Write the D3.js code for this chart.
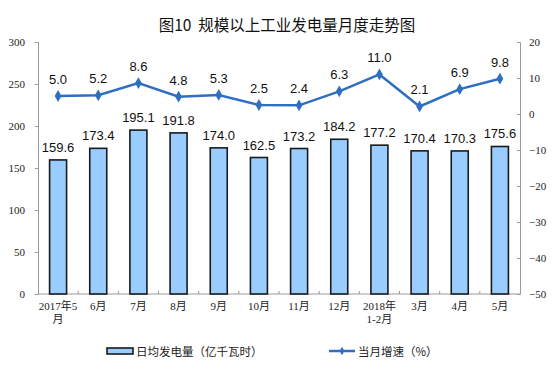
<!DOCTYPE html>
<html><head><meta charset="utf-8">
<script src="https://cdn.jsdelivr.net/npm/d3@7"></script>
<style>body{margin:0;background:#fff}svg{display:block}</style>
</head><body>
<script>
const categories = ["2017年5\n月","6月","7月","8月","9月","10月","11月","12月","2018年\n1-2月","3月","4月","5月"];
const dailyOutput = [159.6,173.4,195.1,191.8,174.0,162.5,173.2,184.2,177.2,170.4,170.3,175.6];
const growth = [5.0,5.2,8.6,4.8,5.3,2.5,2.4,6.3,11.0,2.1,6.9,9.8];
const leftTicks = [0,50,100,150,200,250,300];
const rightTicks = [20,10,0,-10,-20,-30,-40,-50];
const title = "图10  规模以上工业发电量月度走势图";
const legendLabels = ["日均发电量（亿千瓦时）","当月增速（%）"];

const W=557,H=384;
const svg=d3.select("body").append("svg").attr("width",W).attr("height",H);
const x0=38,x1=520,yTop=42,yBot=294;
const x=d3.scaleBand().domain(categories).range([x0,x1]);
const yL=d3.scaleLinear().domain([0,300]).range([yBot,yTop]);
const yR=d3.scaleLinear().domain([-50,20]).range([yBot,yTop]);
const axisColor="#9a9a9a";
const lineColor="#2f6fc2";

svg.append("text").attr("x",287).attr("y",31).attr("text-anchor","middle").style("white-space","pre")
  .attr("font-family","'Noto Sans CJK SC',sans-serif").attr("font-size",15.5).attr("fill","#111").text(title);

// left axis
const gL=svg.append("g").attr("transform",`translate(${x0},0)`)
  .call(d3.axisLeft(yL).tickValues(leftTicks).tickSize(3).tickPadding(10));
gL.select(".domain").attr("stroke",axisColor);
gL.selectAll(".tick line").attr("stroke",axisColor);
gL.selectAll("text").attr("font-family","'Liberation Serif',serif").attr("font-size",11).attr("fill","#222");

// right axis
const gR=svg.append("g").attr("transform",`translate(${x1},0)`)
  .call(d3.axisRight(yR).tickValues(rightTicks).tickSize(-3).tickPadding(9));
gR.select(".domain").attr("stroke",axisColor);
gR.selectAll(".tick line").attr("stroke",axisColor);
gR.selectAll("text").attr("font-family","'Liberation Serif',serif").attr("font-size",11).attr("fill","#222");

// bottom axis
svg.append("line").attr("x1",x0).attr("x2",x1).attr("y1",yBot).attr("y2",yBot).attr("stroke",axisColor);
categories.forEach((c,i)=>{ if(i>0){ svg.append("line").attr("x1",x(c)).attr("x2",x(c)).attr("y1",yBot-3).attr("y2",yBot).attr("stroke",axisColor);} });
const xl=svg.append("g");
categories.forEach(c=>{
  const lines=c.split("\n");
  const t=xl.append("text").attr("x",x(c)+x.bandwidth()/2).attr("y",310).attr("text-anchor","middle")
   .attr("font-family","'Liberation Serif','Noto Sans CJK SC',serif").attr("font-size",11).attr("fill","#222");
  lines.forEach((l,j)=>t.append("tspan").attr("x",x(c)+x.bandwidth()/2).attr("dy",j?13:0).text(l));
});

// bars
const bw=17;
svg.selectAll("rect.bar").data(dailyOutput).join("rect").attr("class","bar")
  .attr("x",(d,i)=>x(categories[i])+x.bandwidth()/2-bw/2).attr("y",d=>yL(d))
  .attr("width",bw).attr("height",d=>yBot-yL(d))
  .attr("fill","#99ccff").attr("stroke","#1a1a1a").attr("stroke-width",1.6);
svg.selectAll("text.bl").data(dailyOutput).join("text").attr("class","bl")
  .attr("x",(d,i)=>x(categories[i])+x.bandwidth()/2).attr("y",d=>yL(d)-8).attr("text-anchor","middle")
  .attr("font-family","'Liberation Sans',Arial,sans-serif").attr("font-size",13).attr("fill","#111")
  .text(d=>d.toFixed(1));

// line
const cx=i=>x(categories[i])+x.bandwidth()/2;
svg.append("path").datum(growth).attr("fill","none").attr("stroke",lineColor).attr("stroke-width",2.5)
  .attr("d",d3.line().x((d,i)=>cx(i)).y(d=>yR(d)));
const diamond=d3.symbol().type(d3.symbolDiamond).size(40);
svg.selectAll("path.mk").data(growth).join("path").attr("class","mk")
  .attr("transform",(d,i)=>`translate(${cx(i)},${yR(d)})`).attr("d",diamond).attr("fill",lineColor);
svg.selectAll("text.ll").data(growth).join("text").attr("class","ll")
  .attr("x",(d,i)=>cx(i)).attr("y",d=>yR(d)-12).attr("text-anchor","middle")
  .attr("font-family","'Liberation Sans',Arial,sans-serif").attr("font-size",13).attr("fill","#111")
  .text(d=>d.toFixed(1));

// legend
const lg=svg.append("g");
lg.append("rect").attr("x",107).attr("y",348).attr("width",26).attr("height",6)
  .attr("fill","#99ccff").attr("stroke","#1a1a1a").attr("stroke-width",1.6);
lg.append("text").attr("x",136).attr("y",355.5).attr("font-family","'Noto Sans CJK SC',sans-serif")
  .attr("font-size",11.5).attr("fill","#222").text(legendLabels[0]);
lg.append("line").attr("x1",329).attr("x2",355).attr("y1",351).attr("y2",351).attr("stroke",lineColor).attr("stroke-width",2.5);
lg.append("path").attr("transform","translate(342,351)").attr("d",d3.symbol().type(d3.symbolDiamond).size(20)).attr("fill",lineColor);
lg.append("text").attr("x",358).attr("y",355.5).attr("font-family","'Noto Sans CJK SC',sans-serif")
  .attr("font-size",11.5).attr("fill","#222").text(legendLabels[1]);
</script>
</body></html>
